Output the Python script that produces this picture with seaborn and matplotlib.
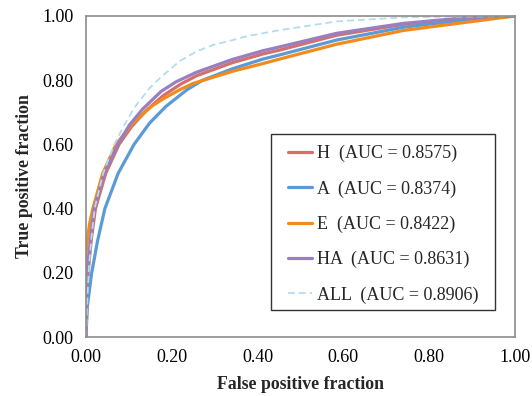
import numpy as np
import pandas as pd
import seaborn as sns
import matplotlib
matplotlib.use("Agg")
import matplotlib.pyplot as plt
from matplotlib.patches import Rectangle

# ---- data ----
names = ["H", "A", "E", "HA", "ALL"]
auc = ["0.8575", "0.8374", "0.8422", "0.8631", "0.8906"]

h_fpr = [0, 0.002, 0.005, 0.012, 0.022, 0.046, 0.077, 0.106, 0.14, 0.18, 0.221, 0.258, 0.342, 0.413, 0.452, 0.584, 0.74, 0.895, 1.0]
h_tpr = [0, 0.10, 0.20, 0.30, 0.40, 0.51, 0.60, 0.655, 0.705, 0.752, 0.788, 0.814, 0.855, 0.882, 0.894, 0.94, 0.974, 0.993, 1.0]

a_fpr = [0, 0.003, 0.013, 0.027, 0.044, 0.075, 0.112, 0.148, 0.186, 0.235, 0.272, 0.34, 0.413, 0.452, 0.584, 0.74, 0.895, 1.0]
a_tpr = [0, 0.094, 0.198, 0.30, 0.40, 0.51, 0.60, 0.666, 0.718, 0.77, 0.80, 0.835, 0.866, 0.879, 0.925, 0.965, 0.99, 1.0]

e_fpr = [0, 0, 0.003, 0.008, 0.016, 0.039, 0.07, 0.109, 0.152, 0.18, 0.218, 0.25, 0.342, 0.413, 0.452, 0.584, 0.74, 0.895, 1.0]
e_tpr = [0, 0.26, 0.30, 0.35, 0.40, 0.51, 0.60, 0.666, 0.718, 0.742, 0.77, 0.79, 0.828, 0.852, 0.866, 0.912, 0.955, 0.982, 1.0]

ha_fpr = [0, 0.001, 0.004, 0.01, 0.019, 0.043, 0.074, 0.101, 0.132, 0.175, 0.21, 0.258, 0.342, 0.413, 0.452, 0.584, 0.74, 0.895, 1.0]
ha_tpr = [0, 0.10, 0.22, 0.30, 0.40, 0.51, 0.60, 0.66, 0.71, 0.765, 0.795, 0.825, 0.865, 0.892, 0.904, 0.946, 0.977, 0.996, 1.0]

all_fpr = [0, 0.003, 0.007, 0.012, 0.02, 0.04, 0.066, 0.089, 0.113, 0.148, 0.175, 0.219, 0.258, 0.297, 0.342, 0.375, 0.452, 0.584, 0.74, 1.0]
all_tpr = [0, 0.115, 0.219, 0.30, 0.40, 0.51, 0.60, 0.66, 0.715, 0.775, 0.81, 0.86, 0.89, 0.91, 0.925, 0.937, 0.956, 0.983, 0.996, 1.0]

ticks = [0.0, 0.2, 0.4, 0.6, 0.8, 1.0]
tick_labels = ["0.00", "0.20", "0.40", "0.60", "0.80", "1.00"]

colors = ["#D4706C", "#5B9BD5", "#F28A1C", "#9A7FBF", "#B4DDEA"]
widths = [2.3, 2.3, 2.3, 2.3, 1.3]
styles = ["-", "-", "-", "-", (0, (3.8, 2.2))]

series = [(h_fpr, h_tpr), (a_fpr, a_tpr), (e_fpr, e_tpr), (ha_fpr, ha_tpr), (all_fpr, all_tpr)]

sns.set_theme(style="white")
plt.rcParams["font.family"] = ["Liberation Serif", "DejaVu Serif"]
plt.rcParams["font.size"] = 13

fig = plt.figure(figsize=(5.32, 3.96), dpi=100)
ax = fig.add_axes([86 / 532, 1 - 337 / 396, (515 - 86) / 532, (337 - 16) / 396])

for name, a, (fx, ty), c, w, ls in zip(names, auc, series, colors, widths, styles):
    df = pd.DataFrame({"fpr": fx, "tpr": ty})
    sns.lineplot(data=df, x="fpr", y="tpr", ax=ax, sort=False, estimator=None,
                 color=c, linewidth=w, linestyle=ls,
                 label=f"{name}  (AUC = {a})")

ax.set_xlim(0, 1)
ax.set_ylim(0, 1)
ax.set_xticks(ticks)
ax.set_xticklabels(tick_labels)
ax.set_yticks(ticks)
ax.set_yticklabels(tick_labels)
ax.tick_params(axis="both", direction="in", length=4, width=1, color="#999999",
               labelsize=13, labelcolor="black", pad=9)
for s in ax.spines.values():
    s.set_color("#8C8C8C")
    s.set_linewidth(1.2)

ax.set_xlabel("False positive fraction", fontsize=12.8, fontweight="bold", labelpad=7)
ax.set_ylabel("True positive fraction", fontsize=12.8, fontweight="bold", labelpad=7)

# legend box (frame drawn separately to match the reference padding)
box = Rectangle(((271 - 86) / 429, (337 - 310) / 321), (495 - 271) / 429, (310 - 134) / 321,
                transform=ax.transAxes, facecolor="white", edgecolor="#333333",
                linewidth=1.0, zorder=4)
ax.add_patch(box)
leg = ax.legend(loc="upper left", bbox_to_anchor=((288 - 86) / 429, (337 - 145) / 321),
                borderaxespad=0, borderpad=0, frameon=False,
                fontsize=13, labelspacing=1.0, handlelength=1.33, handletextpad=0.3)
leg.set_zorder(5)

fig.savefig("out.png", dpi=100)
